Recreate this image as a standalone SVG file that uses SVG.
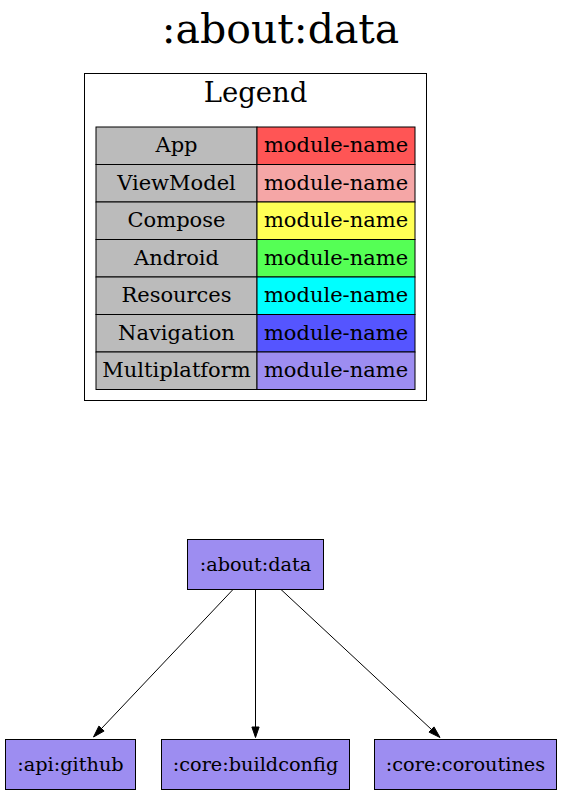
<svg xmlns="http://www.w3.org/2000/svg" width="562" height="794" viewBox="0 0 562 794">
<style>
text{font-family:"DejaVu Serif","Liberation Serif",serif;fill:#000;text-anchor:middle}
.cell{stroke:#000;stroke-width:1}
.key{fill:#bbbbbb}
.node rect{fill:#9d8df1;stroke:#000;stroke-width:1}
.node text{font-size:19.3px}
.t{font-size:21px}
.edge line{stroke:#000;stroke-width:1}
.edge polygon{fill:#000;stroke:#000;stroke-width:1}
</style>
<rect width="562" height="794" fill="#fff"/>
<text x="280.5" y="43" font-size="41">:about:data</text>
<g id="legend">
<rect x="84.5" y="73.5" width="342" height="327" fill="none" stroke="#000"/>
<text x="255.5" y="101.5" font-size="27.5">Legend</text>
<g class="t">
<rect class="cell key" x="96" y="127" width="161" height="37.5"/><rect class="cell" fill="#ff5555" x="257" y="127" width="158" height="37.5"/>
<text x="176.5" y="152" class="t">App</text><text x="336" y="152" class="t">module-name</text>
<rect class="cell key" x="96" y="164.5" width="161" height="37.5"/><rect class="cell" fill="#f5a6a6" x="257" y="164.5" width="158" height="37.5"/>
<text x="176.5" y="189.5" class="t">ViewModel</text><text x="336" y="189.5" class="t">module-name</text>
<rect class="cell key" x="96" y="202" width="161" height="37.5"/><rect class="cell" fill="#ffff55" x="257" y="202" width="158" height="37.5"/>
<text x="176.5" y="227" class="t">Compose</text><text x="336" y="227" class="t">module-name</text>
<rect class="cell key" x="96" y="239.5" width="161" height="37.5"/><rect class="cell" fill="#55ff55" x="257" y="239.5" width="158" height="37.5"/>
<text x="176.5" y="264.5" class="t">Android</text><text x="336" y="264.5" class="t">module-name</text>
<rect class="cell key" x="96" y="277" width="161" height="37.5"/><rect class="cell" fill="#00ffff" x="257" y="277" width="158" height="37.5"/>
<text x="176.5" y="302" class="t">Resources</text><text x="336" y="302" class="t">module-name</text>
<rect class="cell key" x="96" y="314.5" width="161" height="37.5"/><rect class="cell" fill="#5555ff" x="257" y="314.5" width="158" height="37.5"/>
<text x="176.5" y="339.5" class="t">Navigation</text><text x="336" y="339.5" class="t">module-name</text>
<rect class="cell key" x="96" y="352" width="161" height="37.5"/><rect class="cell" fill="#9d8df1" x="257" y="352" width="158" height="37.5"/>
<text x="176.5" y="377" class="t">Multiplatform</text><text x="336" y="377" class="t">module-name</text>
</g>
</g>
<g id="edges" class="edge">
<line x1="233" y1="589.5" x2="101.5" y2="728.5"/>
<polygon points="93.5,737 98.9,726.1 104.1,731"/>
<line x1="255.5" y1="589.5" x2="255.5" y2="727"/>
<polygon points="255.5,737.5 251.9,727 259.1,727"/>
<line x1="281" y1="589.5" x2="431.5" y2="729.5"/>
<polygon points="440,737.5 429,732.1 434,726.9"/>
</g>
<g id="n-about-data" class="node">
<rect x="187.5" y="539.5" width="136" height="50"/>
<text x="255.5" y="570.5">:about:data</text>
</g>
<g id="n-api-github" class="node">
<rect x="5.5" y="739.5" width="130" height="50"/>
<text x="70.5" y="770.5">:api:github</text>
</g>
<g id="n-core-buildconfig" class="node">
<rect x="161.5" y="739.5" width="188" height="50"/>
<text x="255.5" y="770.5">:core:buildconfig</text>
</g>
<g id="n-core-coroutines" class="node">
<rect x="374.5" y="739.5" width="182" height="50"/>
<text x="465.5" y="770.5">:core:coroutines</text>
</g>
</svg>
